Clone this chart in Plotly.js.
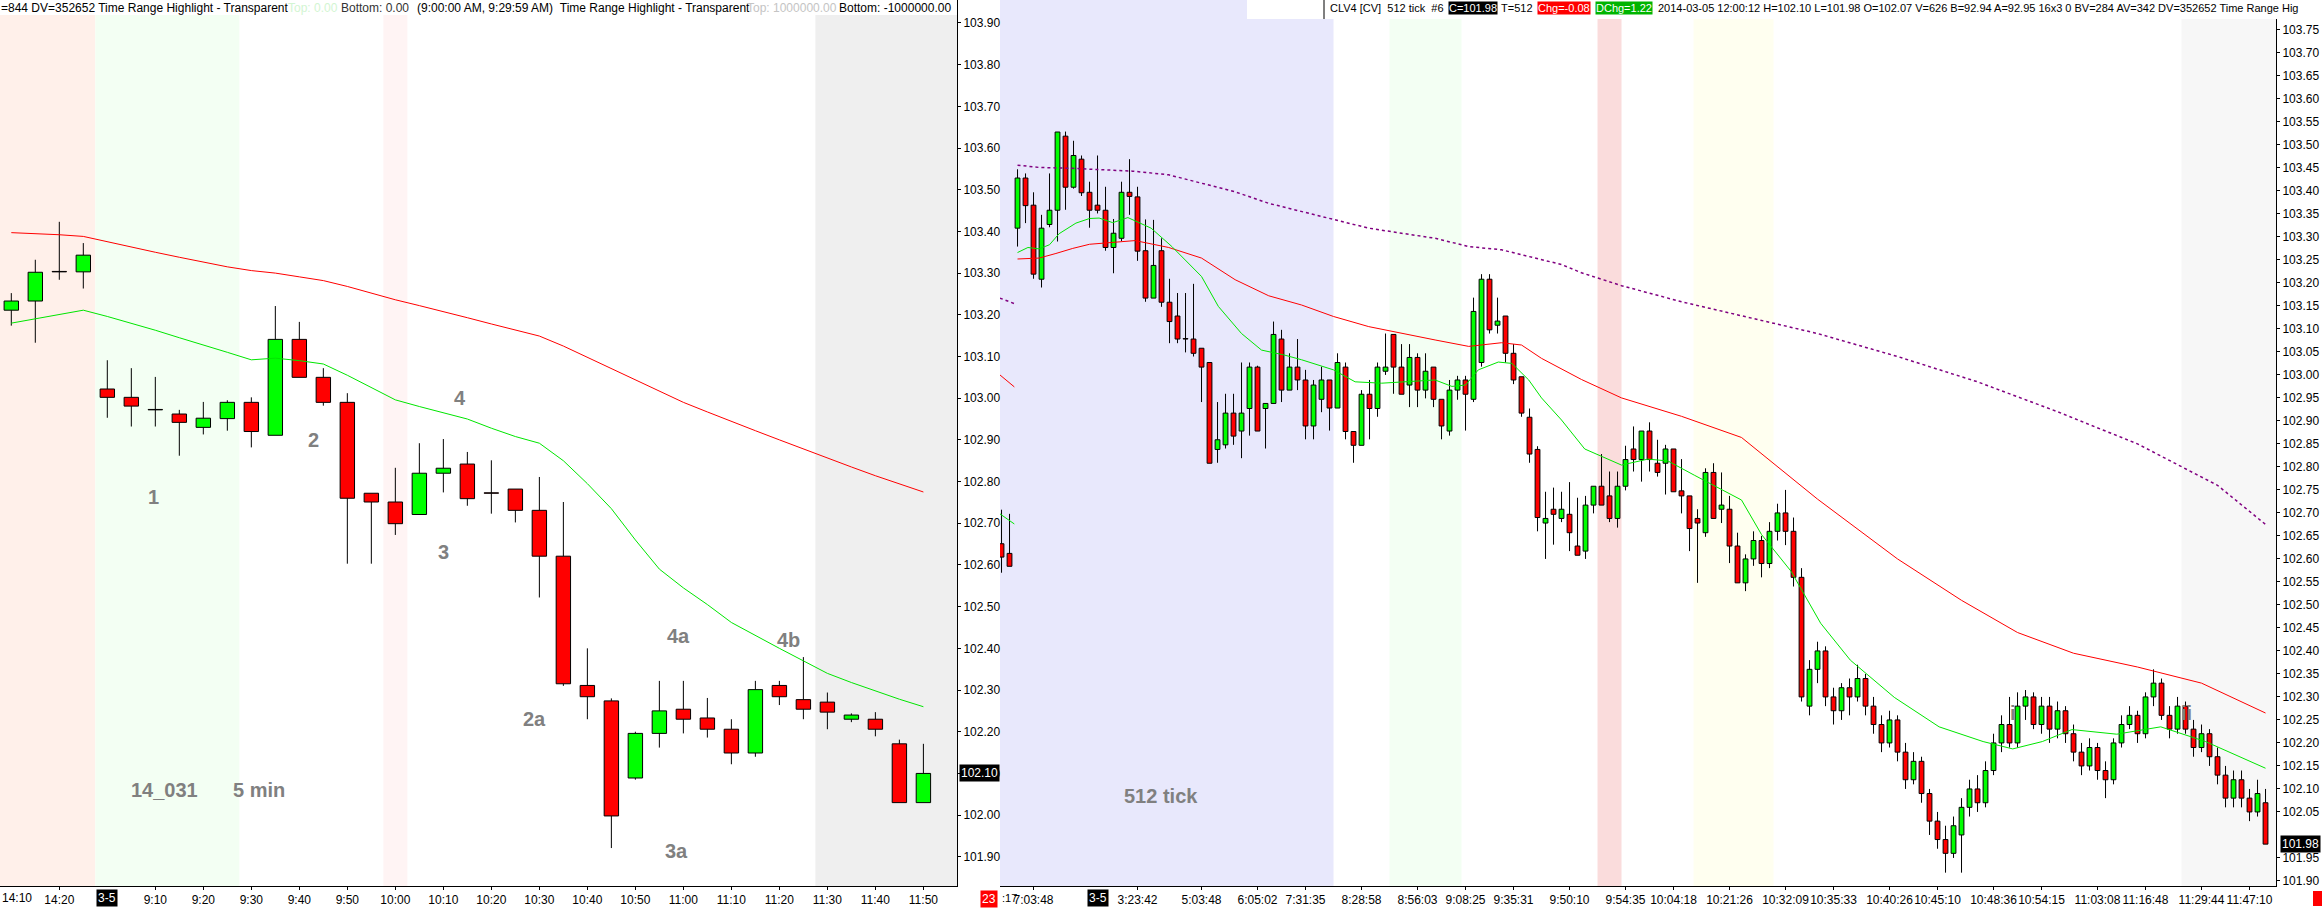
<!DOCTYPE html>
<html>
<head>
<meta charset="utf-8">
<script src="https://cdn.plot.ly/plotly-3.0.1.min.js"></script>
<style>
  html, body { margin: 0; padding: 0; background: #fff; overflow: hidden; }
  #chart { width: 2322px; height: 908px; }
</style>
</head>
<body>
<div id="chart"></div>
<script>
// ---- left panel: 5 min bars ----
const leftTimes = ['14:10','14:15','14:20','14:25','9:00','9:05','9:10','9:15','9:20','9:25','9:30','9:35','9:40','9:45','9:50','9:55',
  '10:00','10:05','10:10','10:15','10:20','10:25','10:30','10:35','10:40','10:45','10:50','10:55','11:00','11:05','11:10','11:15',
  '11:20','11:25','11:30','11:35','11:40','11:45','11:50'];
const leftOpen  = [103.211,103.233,103.303,103.303,103.022,103.002,102.972,102.962,102.930,102.951,102.990,102.911,103.141,103.050,102.990,102.772,
  102.751,102.721,102.820,102.842,102.772,102.782,102.731,102.621,102.311,102.274,102.089,102.196,102.254,102.233,102.206,102.149,
  102.311,102.277,102.271,102.230,102.230,102.171,102.030];
const leftHigh  = [103.252,103.332,103.423,103.372,103.091,103.072,103.051,102.972,102.991,102.995,103.002,103.221,103.183,103.072,103.012,102.772,
  102.833,102.892,102.902,102.871,102.851,102.782,102.811,102.751,102.400,102.280,102.200,102.322,102.322,102.281,102.230,102.322,
  102.322,102.379,102.294,102.244,102.247,102.181,102.171];
const leftLow   = [103.174,103.133,103.284,103.263,102.953,102.932,102.932,102.862,102.913,102.922,102.882,102.911,103.050,102.982,102.603,102.603,
  102.672,102.721,102.774,102.742,102.723,102.702,102.522,102.310,102.230,101.921,102.085,102.162,102.196,102.186,102.122,102.140,
  102.264,102.230,102.206,102.223,102.189,102.030,102.030];
const leftClose = [103.233,103.302,103.303,103.343,103.002,102.981,102.972,102.942,102.952,102.990,102.920,103.141,103.050,102.990,102.760,102.751,
  102.699,102.820,102.832,102.759,102.772,102.731,102.621,102.315,102.284,101.998,102.196,102.250,102.230,102.206,102.149,102.301,
  102.284,102.254,102.247,102.240,102.206,102.030,102.100];
const leftSlowMA = [103.397,103.395,103.392,103.388,103.375,103.362,103.350,103.338,103.326,103.315,103.306,103.300,103.291,103.282,103.268,103.252,
  103.236,103.222,103.208,103.193,103.178,103.163,103.149,103.125,103.098,103.072,103.045,103.018,102.990,102.967,102.944,102.922,
  102.900,102.878,102.856,102.835,102.814,102.794,102.775];
const leftFastMA = [103.180,103.190,103.200,103.211,103.196,103.180,103.163,103.145,103.128,103.110,103.092,103.096,103.090,103.082,103.055,103.025,
  102.996,102.980,102.965,102.950,102.928,102.908,102.892,102.850,102.795,102.735,102.660,102.590,102.545,102.505,102.462,102.430,
  102.400,102.370,102.340,102.318,102.298,102.278,102.260];
const leftLastPrice = 102.10;

// ---- right panel: 512 tick bars (first two bars belong to the previous session) ----
const rightOpen = [102.633,102.612,
  103.319,103.428,103.369,103.208,103.327,103.358,103.519,103.408,103.469,103.397,103.369,103.358,103.277,103.297,103.397,103.387,
  103.270,103.167,103.270,103.158,103.128,103.078,103.078,103.058,103.027,102.838,102.848,102.917,102.878,102.927,103.017,102.927,
  102.938,103.078,102.967,103.017,102.989,102.889,102.947,102.989,102.928,103.017,102.877,102.847,102.958,102.927,103.008,103.088,
  103.017,102.978,103.038,102.967,103.017,102.947,102.878,102.967,102.989,102.947,103.027,103.208,103.108,103.128,103.047,102.996,
  102.908,102.838,102.678,102.708,102.688,102.697,102.628,102.617,102.717,102.758,102.737,102.688,102.758,102.839,102.816,102.878,
  102.808,102.808,102.839,102.748,102.737,102.688,102.657,102.788,102.708,102.708,102.628,102.548,102.600,102.640,102.590,102.660,
  102.700,102.660,102.560,102.280,102.360,102.400,102.300,102.270,102.320,102.300,102.340,102.280,102.240,102.200,102.250,102.180,
  102.120,102.160,102.090,102.030,101.990,101.960,102.000,102.060,102.100,102.070,102.140,102.200,102.240,102.200,102.280,102.300,
  102.240,102.280,102.230,102.270,102.220,102.180,102.150,102.190,102.140,102.120,102.200,102.240,102.260,102.220,102.300,102.330,
  102.260,102.230,102.280,102.230,102.190,102.220,102.170,102.130,102.080,102.120,102.080,102.050,102.070];
const rightHigh = [102.707,102.698,
  103.447,103.438,103.397,103.348,103.438,103.528,103.529,103.509,103.477,103.420,103.477,103.409,103.339,103.420,103.469,103.409,
  103.338,103.337,103.297,103.209,103.178,103.178,103.198,103.058,103.027,102.941,102.959,102.959,103.027,103.027,103.020,102.938,
  103.116,103.098,103.047,103.078,103.011,102.989,103.018,102.989,103.047,103.027,102.877,102.967,102.989,103.027,103.090,103.088,
  103.067,103.067,103.047,103.047,103.017,102.947,102.989,102.998,102.998,103.168,103.219,103.219,103.168,103.128,103.067,102.996,
  102.927,102.845,102.746,102.755,102.746,102.767,102.733,102.737,102.758,102.828,102.790,102.790,102.846,102.888,102.878,102.897,
  102.859,102.848,102.839,102.817,102.737,102.708,102.797,102.808,102.788,102.737,102.657,102.610,102.660,102.650,102.680,102.720,
  102.750,102.690,102.580,102.380,102.420,102.410,102.320,102.330,102.340,102.370,102.350,102.300,102.260,102.270,102.260,102.200,
  102.180,102.170,102.100,102.050,102.020,102.040,102.080,102.120,102.130,102.160,102.220,102.260,102.300,102.310,102.315,102.310,
  102.300,102.300,102.290,102.280,102.240,102.200,102.210,102.200,102.160,102.210,102.260,102.280,102.270,102.310,102.360,102.340,
  102.280,102.300,102.290,102.250,102.240,102.230,102.190,102.150,102.140,102.140,102.100,102.120,102.100];
const rightLow = [102.570,102.584,
  103.279,103.330,103.209,103.190,103.321,103.290,103.359,103.405,103.389,103.320,103.351,103.270,103.221,103.291,103.348,103.248,
  103.159,103.167,103.148,103.069,103.069,103.049,103.040,102.941,102.808,102.809,102.840,102.848,102.819,102.868,102.878,102.840,
  102.938,102.941,102.967,102.967,102.860,102.860,102.919,102.879,102.928,102.860,102.809,102.847,102.860,102.909,103.000,102.959,
  102.958,102.930,102.930,102.949,102.930,102.860,102.868,102.946,102.879,102.941,103.018,103.090,103.090,103.027,102.980,102.909,
  102.809,102.660,102.600,102.631,102.680,102.617,102.608,102.600,102.699,102.717,102.680,102.668,102.749,102.790,102.768,102.790,
  102.779,102.740,102.746,102.699,102.617,102.548,102.648,102.688,102.678,102.591,102.548,102.530,102.585,102.560,102.580,102.640,
  102.630,102.540,102.290,102.260,102.330,102.280,102.240,102.250,102.260,102.290,102.260,102.220,102.180,102.190,102.160,102.100,
  102.110,102.070,102.000,101.970,101.918,101.950,101.918,102.040,102.050,102.060,102.130,102.180,102.190,102.190,102.250,102.230,
  102.220,102.200,102.210,102.200,102.160,102.130,102.140,102.120,102.080,102.110,102.190,102.230,102.200,102.210,102.280,102.250,
  102.210,102.220,102.220,102.170,102.180,102.150,102.110,102.060,102.060,102.060,102.030,102.040,101.980];
const rightClose = [102.604,102.584,
  103.428,103.368,103.219,103.319,103.358,103.528,103.408,103.477,103.396,103.358,103.358,103.277,103.308,103.397,103.388,103.269,
  103.167,103.238,103.158,103.116,103.078,103.078,103.047,103.017,102.808,102.859,102.917,102.867,102.917,103.017,102.878,102.938,
  103.088,102.967,103.017,102.989,102.889,102.978,102.989,102.928,103.027,102.877,102.847,102.958,102.927,103.017,103.017,103.017,
  102.958,103.038,102.967,103.008,102.947,102.889,102.967,102.989,102.958,103.138,103.208,103.098,103.117,103.047,102.989,102.917,
  102.828,102.690,102.688,102.697,102.708,102.657,102.608,102.717,102.758,102.717,102.688,102.758,102.816,102.816,102.878,102.816,
  102.788,102.839,102.746,102.737,102.666,102.678,102.788,102.688,102.717,102.628,102.548,102.600,102.640,102.590,102.660,102.700,
  102.660,102.560,102.300,102.360,102.400,102.300,102.270,102.320,102.300,102.340,102.280,102.240,102.200,102.250,102.180,102.120,
  102.160,102.090,102.030,101.990,101.960,102.020,102.060,102.100,102.070,102.140,102.200,102.240,102.200,102.280,102.300,102.240,
  102.280,102.230,102.270,102.220,102.180,102.150,102.190,102.140,102.120,102.200,102.240,102.260,102.220,102.300,102.330,102.260,
  102.230,102.280,102.230,102.190,102.220,102.170,102.130,102.080,102.120,102.080,102.050,102.090,101.980];
const rightPrevBars = 2;
const rightLastPrice = 101.98;

// moving averages read at sample bars (bar counted from session start; negative = previous session)
const rightPrevMaAt = [-2.2, -0.4];
const rightPrevGreen = [102.698, 102.676];
const rightPrevRed = [103.000, 102.974];
const rightPrevPurple = [103.167, 103.155];
const rightGreenAt = [0,1.3,2.7,4,5.2,7.3,9,10.2,11.9,13.8,16.7,19.3,23,25.1,28,30.5,33.4,35.5,39.5,42.2,45.5,52.2,54.3,56,57.6,60.1,61.8,63.9,65.5,68,
  70.9,75.5,78.8,81.3,84.6,90.5,93,96.7,100.4,104.1,109.6,115.2,120.7,124.4,128.1,131.8,137.4,142.9,148.5,156];
const rightGreen = [103.266,103.277,103.274,103.283,103.307,103.330,103.340,103.341,103.331,103.342,103.319,103.279,103.214,103.149,103.090,103.054,
  103.043,103.033,103.011,102.985,102.982,102.989,102.975,102.978,103.011,103.028,103.025,102.989,102.950,102.902,102.839,102.804,102.817,
  102.813,102.782,102.728,102.653,102.573,102.460,102.380,102.299,102.235,102.203,102.187,102.203,102.229,102.219,102.235,102.203,102.145];
const rightRedAt = [0,2.7,4.8,6.9,9,11,14.7,18.9,23,27.2,31.4,35.5,39.5,43.9,48,52.2,56.4,60.5,63,65.5,70.5,75.5,83,90.5,100,110,118,125,132,140,148,156];
const rightRed = [103.252,103.254,103.264,103.275,103.284,103.287,103.292,103.277,103.254,103.207,103.172,103.152,103.127,103.105,103.090,103.076,
  103.062,103.070,103.065,103.036,102.990,102.950,102.910,102.864,102.730,102.600,102.510,102.440,102.395,102.365,102.330,102.265];
const rightPurpleAt = [0,2.7,6.9,10.5,14.4,18.9,23,27.2,31.4,35.5,39.5,43.9,48,52.2,56.4,60.5,64.7,68,70.5,75.5,83,90.5,100,110,120,130,140,150,156];
const rightPurple = [103.456,103.451,103.449,103.446,103.443,103.435,103.417,103.398,103.373,103.355,103.338,103.319,103.308,103.297,103.279,103.272,
  103.254,103.240,103.222,103.194,103.159,103.128,103.090,103.040,102.985,102.920,102.850,102.760,102.675];

const rightTickBars = [4,17,25,32,38,45,52,58,64,71,78,84,91,98,104,111,117,124,130,137,143,150,156];
const rightTickText = ['7:03:48','3:23:42','5:03:48','6:05:02','7:31:35','8:28:58','8:56:03','9:08:25','9:35:31','9:50:10','9:54:35',
  '10:04:18','10:21:26','10:32:09','10:35:33','10:40:26','10:45:10','10:48:36','10:54:15','11:03:08','11:16:48','11:29:44','11:47:10'];

// ---- page geometry ----
const W = 2322, H = 908;
const M = {l: 0, r: 46, t: 0, b: 22};
const PW = W - M.l - M.r, PH = H - M.t - M.b;
const fx = px => px / PW;
const fy = py => 1 - py / PH;
const UP = '#00ff00', DOWN = '#ff0000';
const FONT = 'Liberation Sans, Arial, sans-serif';

function candles(xs, o, h, l, c, xa, ya) {
  const base = [], len = [], col = [], wx = [], wy = [];
  xs.forEach((x, i) => {
    const top = Math.max(o[i], c[i]), bot = Math.min(o[i], c[i]);
    base.push(bot);
    len.push(Math.max(top - bot, 0.001));
    col.push(c[i] > o[i] ? UP : DOWN);
    if (h[i] > top) { wx.push(x, x, null); wy.push(top, h[i], null); }
    if (l[i] < bot) { wx.push(x, x, null); wy.push(bot, l[i], null); }
  });
  return [
    {type:'scatter', mode:'lines', x:wx, y:wy, xaxis:xa, yaxis:ya, line:{color:'#000', width:1}, hoverinfo:'skip'},
    {type:'bar', x:xs, y:len, base:base, width:0.6, xaxis:xa, yaxis:ya,
     marker:{color:col, line:{color:'#000', width:1}}, hoverinfo:'skip'},
  ];
}
const maLine = (x, y, xa, ya, color, dash, w) => ({type:'scatter', mode:'lines', x, y, xaxis:xa, yaxis:ya,
  line:{color, width:w || 1, dash:dash || 'solid'}, hoverinfo:'skip', connectgaps:false});

const leftX = leftTimes.map((_, i) => i);
const rightX = rightOpen.map((_, i) => i);
const shift = a => a.map(v => v + rightPrevBars);
const joinPrev = (prevAt, prev, at, vals) => ({x: shift(prevAt).concat([null], shift(at)), y: prev.concat([null], vals)});

const g = joinPrev(rightPrevMaAt, rightPrevGreen, rightGreenAt, rightGreen);
const r = joinPrev(rightPrevMaAt, rightPrevRed, rightRedAt, rightRed);
const p = joinPrev(rightPrevMaAt, rightPrevPurple, rightPurpleAt, rightPurple);

const traces = [
  ...candles(leftX, leftOpen, leftHigh, leftLow, leftClose, 'x', 'y'),
  maLine(leftX, leftSlowMA, 'x', 'y', '#ff0000'),
  maLine(leftX, leftFastMA, 'x', 'y', '#00e600'),
  ...candles(rightX, rightOpen, rightHigh, rightLow, rightClose, 'x2', 'y2'),
  maLine(p.x, p.y, 'x2', 'y2', '#800080', 'dot', 1.5),
  maLine(r.x, r.y, 'x2', 'y2', '#ff0000'),
  maLine(g.x, g.y, 'x2', 'y2', '#00e600'),
];

// ticks: the first (edge) label and the session date are drawn as annotations
const leftTickIdx = leftX.filter(i => i > 0 && leftTimes[i].endsWith('0') && leftTimes[i] !== '9:00');
const leftDateIdx = leftTimes.indexOf('9:00');
const steps = (from, to, step) => Array.from({length: Math.round((to - from) / step) + 1}, (_, i) => +(from + i * step).toFixed(2));
// price under the last-price box on the right axis is covered by the box
const rightPriceTicks = steps(101.9, 103.75, 0.05).filter(v => Math.abs(v - rightLastPrice) > 0.025);

// background time ranges
const band = (xref, x0, x1, color) => ({type:'rect', xref, yref:'paper', x0, x1, y0:0, y1:1, fillcolor:color, line:{width:0}, layer:'below'});
const shapes = [
  band('x', -0.5, 3.5, '#fff0ea'),
  band('x', 3.5, 9.5, '#f3fff3'),
  band('x', 15.5, 16.5, '#fff4f4'),
  band('x', 33.5, 39.5, '#efefef'),
  band('x2', -0.5, 41.5, '#e8e8fc'),
  band('x2', 48.5, 57.5, '#f3fff3'),
  band('x2', 74.5, 77.5, '#fadcdc'),
  band('x2', 86.5, 96.5, '#fffff0'),
  band('x2', 147.5, 160, '#f7f7f7'),
  {type:'rect', xref:'paper', yref:'paper', x0:0, x1:fx(957), y0:fy(15), y1:1, fillcolor:'#fff', line:{width:0}, layer:'below'},
  {type:'rect', xref:'paper', yref:'paper', x0:fx(1247), x1:fx(W), y0:fy(19), y1:1, fillcolor:'#fff', line:{width:0}, layer:'above'},
  {type:'line', xref:'paper', yref:'paper', x0:fx(1324), x1:fx(1324), y0:fy(19), y1:1, line:{color:'#000', width:1}},
  {type:'rect', xref:'paper', yref:'paper', x0:fx(2313), x1:fx(W), y0:fy(906), y1:fy(891), fillcolor:'#ff0000', line:{width:0}},
];

// texts
const ann = [];
const hdr = (text, px, size, color, bg) => ann.push({xref:'paper', yref:'paper', x:fx(px), y:fy(8), xanchor:'left', yanchor:'middle',
  text, showarrow:false, font:{family:FONT, size, color:color || '#000'}, bgcolor:bg || 'rgba(0,0,0,0)', borderpad:0});
hdr('=844 DV=352652 Time Range Highlight - Transparent', 0, 12);
hdr('Top: 0.00', 287, 12, '#d2f5d2');
hdr('Bottom: 0.00', 340, 12, '#333');
hdr('(9:00:00 AM, 9:29:59 AM)&nbsp;&nbsp;Time Range Highlight - Transparent', 416, 12);
hdr('Top: 1000000.00', 746, 12, '#c4c4c4');
hdr('Bottom: -1000000.00', 838, 12);
hdr('CLV4 [CV]&nbsp;&nbsp;512 tick&nbsp;&nbsp;#6', 1329, 11);
hdr('C=101.98', 1448, 11, '#fff', '#000');
hdr('T=512', 1500, 11);
hdr('Chg=-0.08', 1537, 11, '#fff', '#ff0000');
hdr('DChg=1.22', 1595, 11, '#fff', '#00b400');
hdr('2014-03-05 12:00:12 H=102.10 L=101.98 O=102.07 V=626 B=92.94 A=92.95 16x3 0 BV=284 AV=342 DV=352652 Time Range Hig', 1657, 11);

const gray = (text, x, y, xref, yref, size) => ann.push({xref, yref, x, y, text:'<b>' + text + '</b>', showarrow:false,
  font:{family:FONT, size:size || 20, color:'#808080'}});
gray('1', 5.94, 102.763, 'x', 'y');
gray('2', 12.57, 102.900, 'x', 'y');
gray('3', 18.0, 102.632, 'x', 'y');
gray('4', 18.7, 103.000, 'x', 'y');
gray('2a', 21.8, 102.23, 'x', 'y');
gray('3a', 27.7, 101.914, 'x', 'y');
gray('4a', 27.8, 102.43, 'x', 'y');
gray('4b', 32.4, 102.42, 'x', 'y');
gray('14_031', 6.4, 102.06, 'x', 'y');
gray('5 min', 10.3, 102.06, 'x', 'y');
gray('512 tick', 19.9, 102.084, 'x2', 'y2');
gray('i', 126.4, 102.265, 'x2', 'y2');
gray('ii', 148.1, 102.265, 'x2', 'y2');

const box = (text, xref, x, yref, y, bg, xanchor) => ann.push({xref, yref, x, y, text, showarrow:false, xanchor:xanchor || 'center',
  yanchor:'middle', bgcolor:bg, borderpad:1, font:{family:FONT, size:12, color:'#fff'}});
box('3-5', 'x', leftDateIdx, 'paper', fy(898), '#000');
box('3-5', 'x2', 12, 'paper', fy(898), '#000');
box(leftLastPrice.toFixed(2), 'paper', fx(959), 'y', leftLastPrice, '#000', 'left');
box(rightLastPrice.toFixed(2), 'paper', fx(2280), 'y2', rightLastPrice, '#000', 'left');
box('23', 'paper', fx(989), 'paper', fy(899), '#ff0000');
const axisText = (text, px, size) => ann.push({xref:'paper', yref:'paper', x:fx(px), y:fy(898), xanchor:'left', yanchor:'middle',
  text, showarrow:false, font:{family:FONT, size, color:'#000'}});
axisText(leftTimes[0], 0, 12);
axisText(':17', 1000, 11);

const axBase = {showgrid:false, zeroline:false, showline:true, linecolor:'#000', linewidth:1, ticks:'outside', ticklen:3,
  tickcolor:'#000', tickfont:{family:FONT, size:12, color:'#000'}, fixedrange:true, tickangle:0};

const layout = {
  width: W, height: H, margin: M, showlegend: false,
  paper_bgcolor: '#fff', plot_bgcolor: '#fff',
  font: {family: FONT, size: 12, color: '#000'},
  barmode: 'overlay',
  xaxis: {...axBase, domain:[0, fx(957)], range:[-0.471, 39.40], anchor:'y',
          tickmode:'array', tickvals:leftTickIdx, ticktext:leftTickIdx.map(i => leftTimes[i])},
  yaxis: {...axBase, domain:[0, 1], range:[101.830, 103.955], side:'right', anchor:'x',
          tickmode:'array', tickvals:steps(101.9, 103.9, 0.1), tickformat:'.2f'},
  xaxis2: {...axBase, domain:[fx(1000), 1], range:[-0.19, 159.31], anchor:'y2',
           tickmode:'array', tickvals:rightTickBars, ticktext:rightTickText},
  yaxis2: {...axBase, domain:[0, 1], range:[101.889, 103.815], side:'right', anchor:'x2',
           tickmode:'array', tickvals:rightPriceTicks, tickformat:'.2f'},
  shapes: shapes,
  annotations: ann,
};

Plotly.newPlot('chart', traces, layout, {staticPlot: true, displayModeBar: false});
</script>
</body>
</html>
